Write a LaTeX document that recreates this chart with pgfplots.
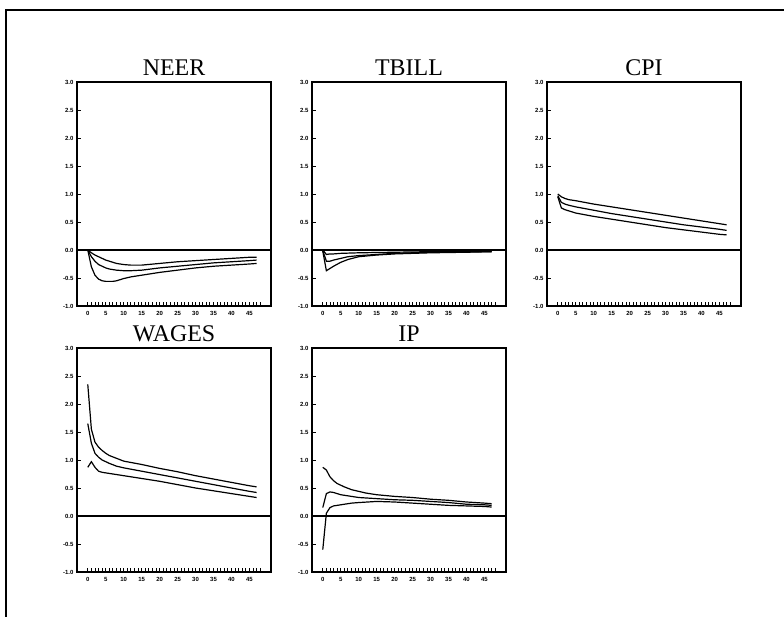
\documentclass[border=0pt]{standalone}
\usepackage{fontspec}
\setmainfont{Liberation Serif}
\newfontfamily\tickfont{Liberation Sans}
\usepackage{pgfplots}
\pgfplotsset{compat=1.18}
\pgfplotsset{
 curve/.style={black, line width=1.2bp, no markers},
 zero/.style={black, line width=1.4bp, no markers},
 panel/.style={
  scale only axis, width=194bp, height=224bp, anchor=south west,
  xmin=-3, xmax=51, ymin=-1, ymax=3,
  xtick={0,5,...,45}, minor xtick={0,1,...,48},
  xticklabels={0,5,10,15,20,25,30,35,40,45},
  ytick={-1,-0.5,0,0.5,1,1.5,2,2.5,3},
  yticklabels={-1.0,-0.5,0.0,0.5,1.0,1.5,2.0,2.5,3.0},
  tick align=inside, xtick pos=left, ytick pos=left,
  major tick length=4bp, minor tick length=3.5bp,
  tick style={black, line width=0.9bp},
  ticklabel style={font=\tickfont\bfseries\fontsize{6}{6}\selectfont},
  xticklabel style={yshift=-2bp},
  axis line style={line width=1.4bp},
  title style={font=\fontsize{24}{25}\selectfont, at={(0.5,1)}, anchor=south, yshift=-3bp},
  after end axis/.code={\draw[line width=2.2bp] (rel axis cs:0,0) -- (rel axis cs:0,1);
                        \draw[line width=2bp] (rel axis cs:0,0) -- (rel axis cs:1,0);},
 }
}
\begin{document}
\begin{tikzpicture}
\path[use as bounding box] (0bp,0bp) rectangle (784bp,617bp);
\draw[line width=1.5bp] (5bp,607bp) -- (784bp,607bp);
\draw[line width=1.5bp] (6bp,607bp) -- (6bp,0bp);

% NEER
\begin{axis}[panel, at={(77bp,311bp)}, title={NEER}]
\addplot[zero] coordinates {(-3,0) (51,0)};
\addplot[curve] coordinates {(0,0)(1,-0.05)(2,-0.09)(3,-0.12)(4,-0.15)(5,-0.18)(6,-0.20)(8,-0.24)(10,-0.26)(12,-0.27)(15,-0.27)(20,-0.24)(25,-0.21)(30,-0.19)(35,-0.17)(40,-0.15)(45,-0.13)(47,-0.13)};
\addplot[curve] coordinates {(0,0)(1,-0.12)(2,-0.20)(3,-0.26)(4,-0.29)(5,-0.32)(6,-0.34)(8,-0.36)(10,-0.37)(12,-0.37)(15,-0.36)(20,-0.32)(25,-0.29)(30,-0.26)(35,-0.23)(40,-0.21)(45,-0.19)(47,-0.18)};
\addplot[curve] coordinates {(0,0)(1,-0.30)(2,-0.45)(3,-0.52)(4,-0.55)(5,-0.56)(6,-0.56)(7,-0.56)(8,-0.55)(10,-0.51)(12,-0.48)(15,-0.45)(20,-0.40)(25,-0.36)(30,-0.32)(35,-0.29)(40,-0.27)(45,-0.25)(47,-0.24)};
\end{axis}

% TBILL
\begin{axis}[panel, at={(312bp,311bp)}, title={TBILL}]
\addplot[zero] coordinates {(-3,0) (51,0)};
\addplot[curve] coordinates {(0,0)(1,-0.08)(2,-0.07)(3,-0.07)(5,-0.06)(10,-0.05)(20,-0.04)(30,-0.03)(40,-0.03)(47,-0.02)};
\addplot[curve] coordinates {(0,-0.01)(1,-0.20)(2,-0.20)(3,-0.18)(5,-0.15)(7,-0.12)(10,-0.10)(15,-0.08)(20,-0.06)(30,-0.04)(40,-0.03)(47,-0.03)};
\addplot[curve] coordinates {(0,-0.02)(1,-0.37)(2,-0.33)(3,-0.29)(5,-0.22)(7,-0.17)(10,-0.12)(15,-0.09)(20,-0.07)(30,-0.05)(40,-0.04)(47,-0.03)};
\end{axis}

% CPI
\begin{axis}[panel, at={(547bp,311bp)}, title={CPI}]
\addplot[zero] coordinates {(-3,0) (51,0)};
\addplot[curve] coordinates {(0,1.0)(1,0.95)(2,0.92)(3,0.90)(5,0.88)(10,0.82)(15,0.77)(20,0.72)(25,0.67)(30,0.62)(35,0.57)(40,0.52)(45,0.47)(47,0.45)};
\addplot[curve] coordinates {(0,0.97)(1,0.85)(2,0.82)(3,0.80)(5,0.77)(10,0.71)(15,0.65)(20,0.60)(25,0.55)(30,0.50)(35,0.45)(40,0.41)(45,0.37)(47,0.35)};
\addplot[curve] coordinates {(0,0.95)(1,0.75)(2,0.72)(3,0.70)(5,0.66)(10,0.60)(15,0.55)(20,0.50)(25,0.45)(30,0.40)(35,0.36)(40,0.32)(45,0.28)(47,0.27)};
\end{axis}

% WAGES
\begin{axis}[panel, at={(77bp,45bp)}, title={WAGES}]
\addplot[zero] coordinates {(-3,0) (51,0)};
\addplot[curve] coordinates {(0,2.35)(1,1.55)(2,1.32)(3,1.23)(4,1.17)(5,1.12)(6,1.08)(8,1.03)(10,0.98)(15,0.92)(20,0.85)(25,0.79)(30,0.72)(35,0.66)(40,0.60)(45,0.54)(47,0.52)};
\addplot[curve] coordinates {(0,1.65)(1,1.30)(2,1.12)(3,1.05)(4,1.00)(5,0.97)(6,0.94)(8,0.89)(10,0.86)(15,0.80)(20,0.74)(25,0.68)(30,0.62)(35,0.56)(40,0.50)(45,0.44)(47,0.42)};
\addplot[curve] coordinates {(0,0.87)(1,0.97)(2,0.87)(3,0.80)(4,0.78)(5,0.77)(8,0.74)(10,0.72)(15,0.67)(20,0.62)(25,0.56)(30,0.50)(35,0.45)(40,0.40)(45,0.35)(47,0.33)};
\end{axis}

% IP
\begin{axis}[panel, at={(312bp,45bp)}, title={IP}]
\addplot[zero] coordinates {(-3,0) (51,0)};
\addplot[curve] coordinates {(0,0.87)(1,0.82)(2,0.70)(3,0.63)(4,0.58)(5,0.55)(6,0.52)(8,0.47)(10,0.44)(12,0.41)(15,0.38)(20,0.35)(25,0.33)(30,0.30)(35,0.28)(40,0.25)(45,0.23)(47,0.22)};
\addplot[curve] coordinates {(0,0.15)(1,0.40)(2,0.43)(3,0.42)(5,0.38)(8,0.35)(10,0.33)(15,0.31)(20,0.29)(25,0.28)(30,0.26)(35,0.24)(40,0.21)(45,0.20)(47,0.19)};
\addplot[curve] coordinates {(0,-0.60)(1,0.05)(2,0.15)(3,0.18)(5,0.20)(8,0.23)(10,0.24)(15,0.26)(20,0.25)(25,0.23)(30,0.21)(35,0.19)(40,0.18)(45,0.17)(47,0.16)};
\end{axis}
\end{tikzpicture}
\end{document}
